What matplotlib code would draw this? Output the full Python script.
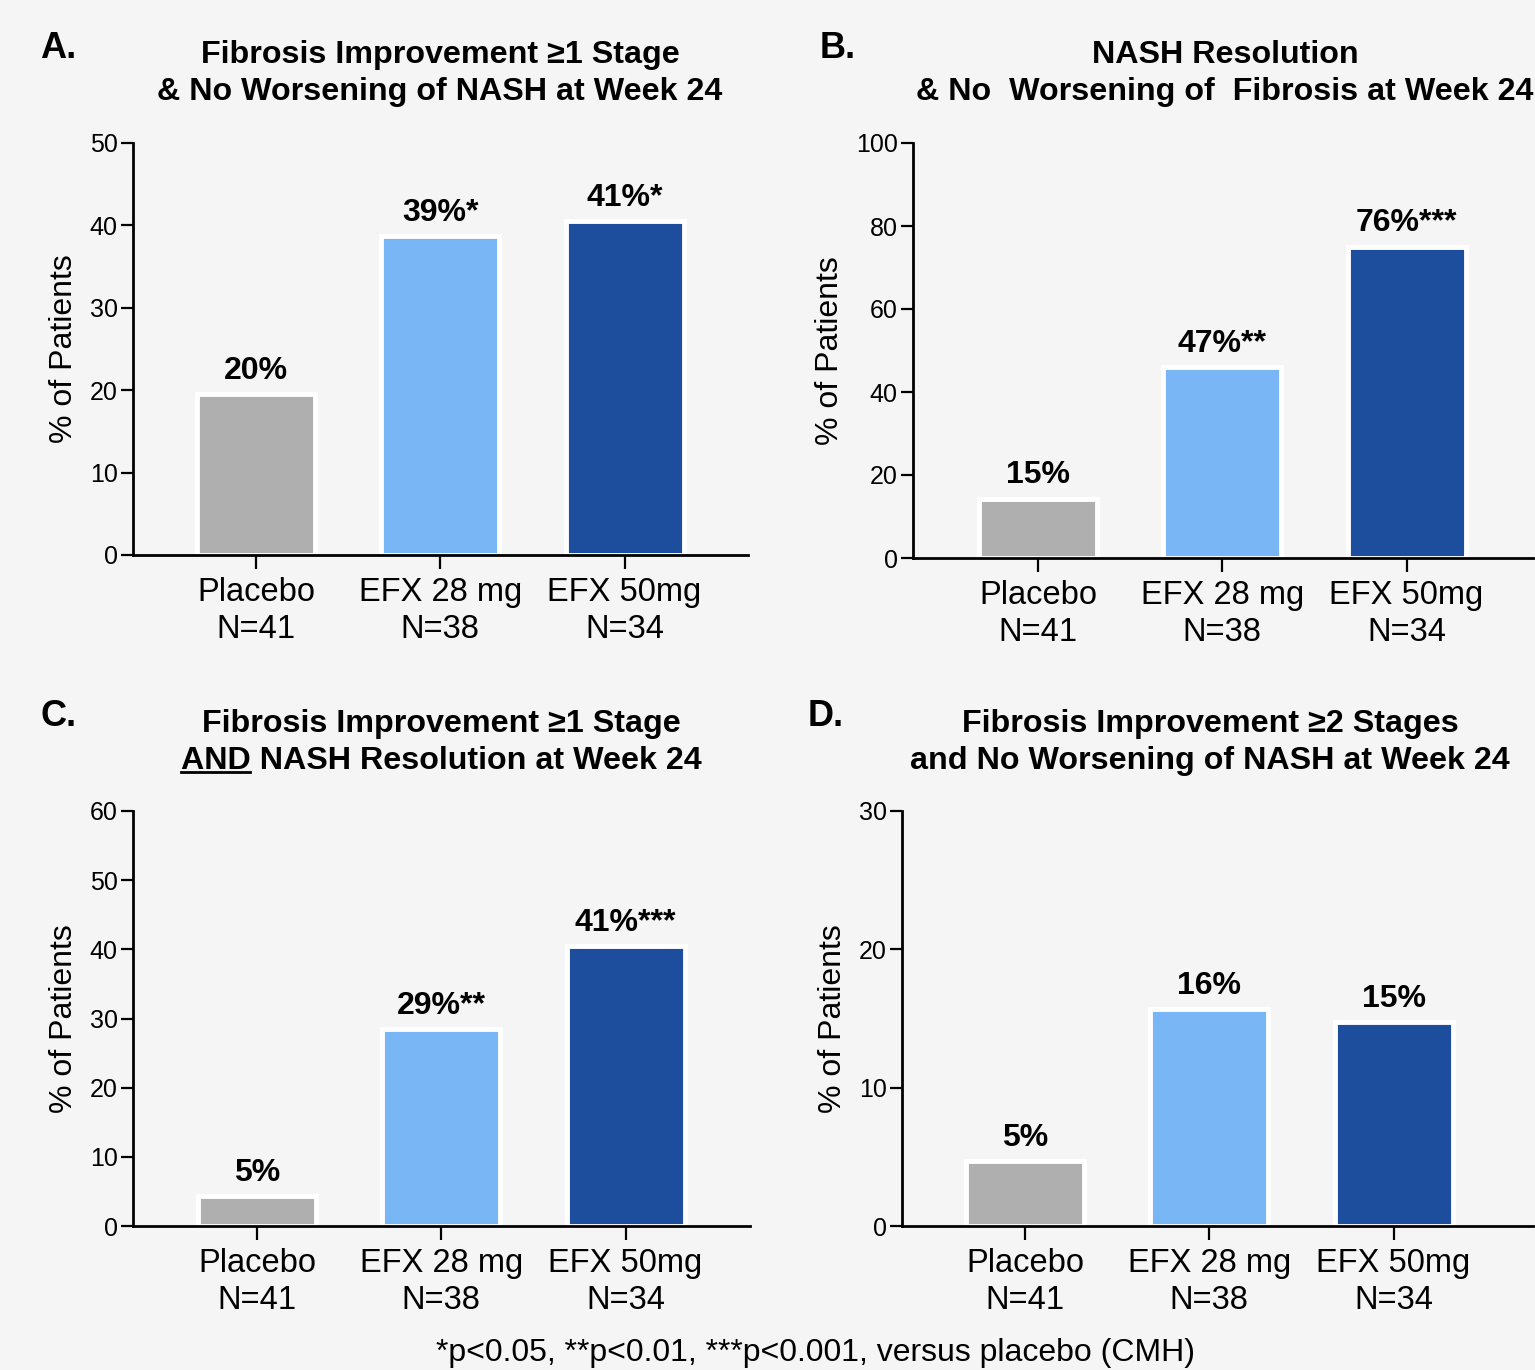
import matplotlib
matplotlib.use("Agg")
import matplotlib.pyplot as plt
from matplotlib.lines import Line2D

W, H = 1535, 1370
plt.rcParams['font.family'] = ['Liberation Sans', 'DejaVu Sans']

categories = ["Placebo\nN=41", "EFX 28 mg\nN=38", "EFX 50mg\nN=34"]
colors = ["#afafaf", "#78b6f5", "#1d4e9e"]

vals_a = [19.5, 38.7, 40.5]
labels_a = ["20%", "39%*", "41%*"]
vals_b = [14.3, 46.0, 75.0]
labels_b = ["15%", "47%**", "76%***"]
vals_c = [4.3, 28.5, 40.5]
labels_c = ["5%", "29%**", "41%***"]
vals_d = [4.7, 15.7, 14.75]
labels_d = ["5%", "16%", "15%"]

yticks_a = [0, 10, 20, 30, 40, 50]
yticks_b = [0, 20, 40, 60, 80, 100]
yticks_c = [0, 10, 20, 30, 40, 50, 60]
yticks_d = [0, 10, 20, 30]

BG = "#f5f5f5"
fig = plt.figure(figsize=(W / 100, H / 100), dpi=100, facecolor=BG)


def fx(px):
    return px / W


def fy(py):
    return 1 - py / H


def make_axes(left, right, top, bottom, xc0, vals, labels, yticks):
    ax = fig.add_axes([fx(left), fy(bottom), fx(right - left), fy(top) - fy(bottom)])
    ax.set_facecolor(BG)
    unit = 184.3
    x0 = (left - xc0) / unit
    x1 = (right - xc0) / unit
    xs = list(range(len(vals)))
    ax.bar(xs, vals, width=0.64, color=colors, edgecolor="white", linewidth=3.5, zorder=2)
    ax.set_xlim(x0, x1)
    ax.set_ylim(yticks[0], yticks[-1])
    ax.set_yticks(yticks)
    ax.set_xticks(xs)
    ax.set_xticklabels(categories, fontsize=23.5, linespacing=1.22)
    ax.tick_params(axis="y", labelsize=18, length=9, width=1.6, pad=2)
    ax.tick_params(axis="x", length=10, width=1.6, pad=6)
    for s in ["top", "right"]:
        ax.spines[s].set_visible(False)
    for s in ["left", "bottom"]:
        ax.spines[s].set_linewidth(2)
        ax.spines[s].set_zorder(3)
    ax.set_ylabel("% of Patients", fontsize=23, labelpad=8)
    span = yticks[-1] - yticks[0]
    for x, v, lab in zip(xs, vals, labels):
        ax.text(x, v + span * 0.02, lab, ha="center", va="bottom", fontsize=23, fontweight="bold", zorder=4)
    return ax


ax_a = make_axes(133, 748, 143, 555, 256, vals_a, labels_a, yticks_a)
ax_b = make_axes(913, 1533, 143, 558, 1038, vals_b, labels_b, yticks_b)
ax_c = make_axes(133, 750, 811, 1226, 257, vals_c, labels_c, yticks_c)
ax_d = make_axes(902, 1533, 811, 1226, 1025, vals_d, labels_d, yticks_d)

TFS = 23.2


def title(xc, y1, y2, line1, line2):
    fig.text(fx(xc), fy(y1), line1, ha="center", va="baseline", fontsize=TFS, fontweight="bold")
    return fig.text(fx(xc), fy(y2), line2, ha="center", va="baseline", fontsize=TFS, fontweight="bold")


title(440, 63, 100, "Fibrosis Improvement \u22651 Stage", "& No Worsening of NASH at Week 24")
title(1225, 63, 100, "NASH Resolution", "& No  Worsening of  Fibrosis at Week 24")
t_c = title(441, 732, 769, "Fibrosis Improvement \u22651 Stage", "AND NASH Resolution at Week 24")
title(1210, 732, 769, "Fibrosis Improvement \u22652 Stages", "and No Worsening of NASH at Week 24")

for lab, x, y in [("A.", 40, 58), ("B.", 820, 58), ("C.", 40, 726), ("D.", 808, 726)]:
    fig.text(fx(x), fy(y), lab, ha="left", va="baseline", fontsize=26, fontweight="bold")

fig.text(fx(816), fy(1361), "*p<0.05, **p<0.01, ***p<0.001, versus placebo (CMH)",
         ha="center", va="baseline", fontsize=23)

# underline "AND" in panel C title
fig.canvas.draw()
r = fig.canvas.get_renderer()
bb = t_c.get_window_extent(r)
tmp = fig.text(0, 0, "AND", fontsize=TFS, fontweight="bold")
wb = tmp.get_window_extent(r)
tmp.remove()
ux0 = bb.x0 / W
ux1 = (bb.x0 + wb.width) / W
uy = fy(772)
fig.add_artist(Line2D([ux0, ux1], [uy, uy], transform=fig.transFigure, color="black", linewidth=2))

fig.savefig("out.png", dpi=100, facecolor=BG)
